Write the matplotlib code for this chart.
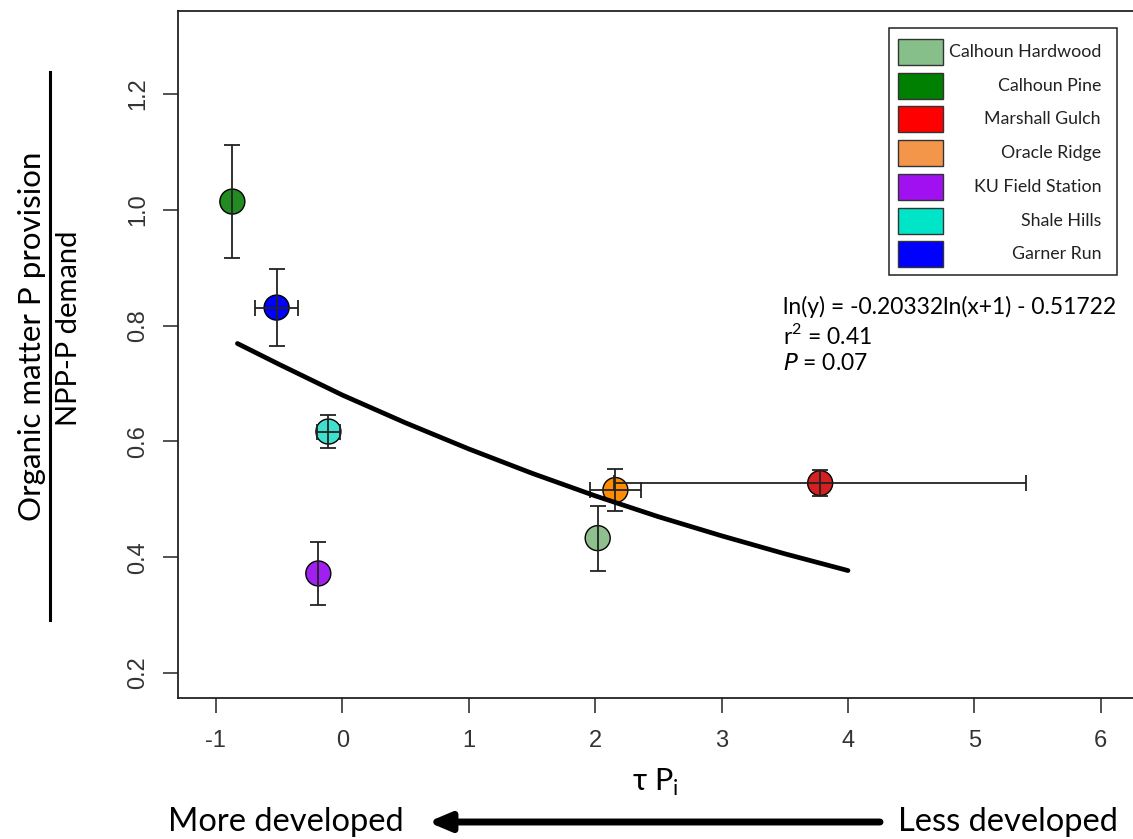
import matplotlib
matplotlib.use("Agg")
import matplotlib.pyplot as plt
from matplotlib.patches import Rectangle
from matplotlib.lines import Line2D

# site data
sites = ["Calhoun Hardwood", "Calhoun Pine", "Marshall Gulch", "Oracle Ridge",
         "KU Field Station", "Shale Hills", "Garner Run"]
tau_p = [2.02, -0.87, 3.78, 2.16, -0.19, -0.11, -0.52]
ratio = [0.433, 1.014, 0.528, 0.516, 0.372, 0.617, 0.831]
ratio_err = [0.056, 0.097, 0.023, 0.036, 0.054, 0.028, 0.067]
tau_err = [0.0, 0.0, 1.63, 0.20, 0.0, 0.09, 0.17]
point_colors = ["#8fbf8f", "#228b22", "#d42020", "#ff8c00", "#a020f0", "#40e0d0", "#0000ff"]
legend_colors = ["#86bf8a", "#008000", "#ff0000", "#f4964a", "#a010f0", "#00e5c8", "#0000ff"]

# fitted curve, points
fit_x = [-0.83, -0.5, 0, 0.5, 1, 1.5, 2, 2.5, 3, 3.5, 4]
fit_y = [0.769, 0.733, 0.680, 0.632, 0.587, 0.545, 0.506, 0.470, 0.437, 0.406, 0.377]

plt.rcParams['font.family'] = ['Liberation Sans', 'DejaVu Sans']
plt.rcParams['axes.unicode_minus'] = False
plt.rcParams['mathtext.fontset'] = 'custom'
plt.rcParams['mathtext.rm'] = 'Lato'
W, H = 1133, 839

fig = plt.figure(figsize=(W / 100, H / 100), dpi=100)
ax = fig.add_axes([178 / W, 141 / H, 962 / W, 687 / H])

ax.scatter(tau_p, ratio, s=18 ** 2, c=point_colors, edgecolors="black",
           linewidths=1.0, zorder=2)
for xi, yi, xe, ye in zip(tau_p, ratio, tau_err, ratio_err):
    ax.errorbar(xi, yi, yerr=ye, xerr=xe if xe > 0 else None, fmt="none",
                ecolor="#222222", elinewidth=1.3, capsize=6, capthick=1.3, zorder=3)
ax.plot(fit_x, fit_y, color="black", lw=3.4, solid_capstyle="round", zorder=4)

ax.set_xlim(-1.30, 6.31)
ax.set_ylim(0.157, 1.343)
ax.set_xticks(range(-1, 7))
ax.set_yticks([0.2, 0.4, 0.6, 0.8, 1.0, 1.2])
ax.set_yticklabels(["0.2", "0.4", "0.6", "0.8", "1.0", "1.2"], rotation=90, va="center")
ax.tick_params(length=11, width=1.1, labelsize=17, color="#222222", labelcolor="#333333")
ax.tick_params(axis="x", pad=12)
ax.tick_params(axis="y", pad=10)
for sp in ax.spines.values():
    sp.set_linewidth(1.3)
    sp.set_color("#222222")

# equation
ax.text(783 / W, 1 - 307 / H, "ln(y) = -0.20332ln(x+1) - 0.51722", transform=fig.transFigure,
        family="Lato", fontsize=16.5, va="center")
ax.text(783 / W, 1 - 336 / H, r"r$^2$ = 0.41", transform=fig.transFigure,
        family="Lato", fontsize=16.5, va="center")
ax.text(783 / W, 1 - 364 / H, r"$\it{P}$ = 0.07", transform=fig.transFigure,
        family="Lato", fontsize=16.5, va="center")

# legend box drawn by hand
fig.patches.append(Rectangle((889 / W, 1 - 275 / H), 228 / W, 247 / H, transform=fig.transFigure,
                             facecolor="white", edgecolor="#222222", lw=1.1, zorder=5))
for i, (name, col) in enumerate(zip(sites, legend_colors)):
    yc = 52 + i * 33.7
    fig.patches.append(Rectangle((898 / W, 1 - (yc + 13) / H), 45 / W, 26 / H,
                                 transform=fig.transFigure, facecolor=col,
                                 edgecolor="#333333", lw=1.0, zorder=6))
    fig.text(1101 / W, 1 - yc / H, name, ha="right", va="center", family="Lato",
             fontsize=12.8, color="#222222", zorder=7)

# axis titles
fig.text(655 / W, 1 - 782 / H, r"τ P$_\mathregular{i}$", ha="center", va="center",
         family="Lato", fontsize=22)
fig.text(32 / W, 1 - 336 / H, "Organic matter P provision", rotation=90, ha="center",
         va="center", family="Lato", fontsize=22.5)
fig.text(69 / W, 1 - 328 / H, "NPP-P demand", rotation=90, ha="center",
         va="center", family="Lato", fontsize=21)
fig.lines.append(Line2D([50 / W, 50 / W], [1 - 72 / H, 1 - 620 / H],
                        transform=fig.transFigure, color="black", lw=2.2))

# development arrow
ax.annotate("", xy=(428 / W, 17 / H), xytext=(880 / W, 17 / H), xycoords="figure fraction",
            textcoords="figure fraction",
            arrowprops=dict(arrowstyle="-|>,head_length=1.3,head_width=0.55", lw=5,
                            color="black", shrinkA=0, shrinkB=0))
fig.text(168 / W, 17 / H, "More developed", ha="left", va="center", family="Lato", fontsize=23.5)
fig.text(1118 / W, 17 / H, "Less developed", ha="right", va="center", family="Lato", fontsize=23.5)

fig.savefig("out.png", dpi=100)
